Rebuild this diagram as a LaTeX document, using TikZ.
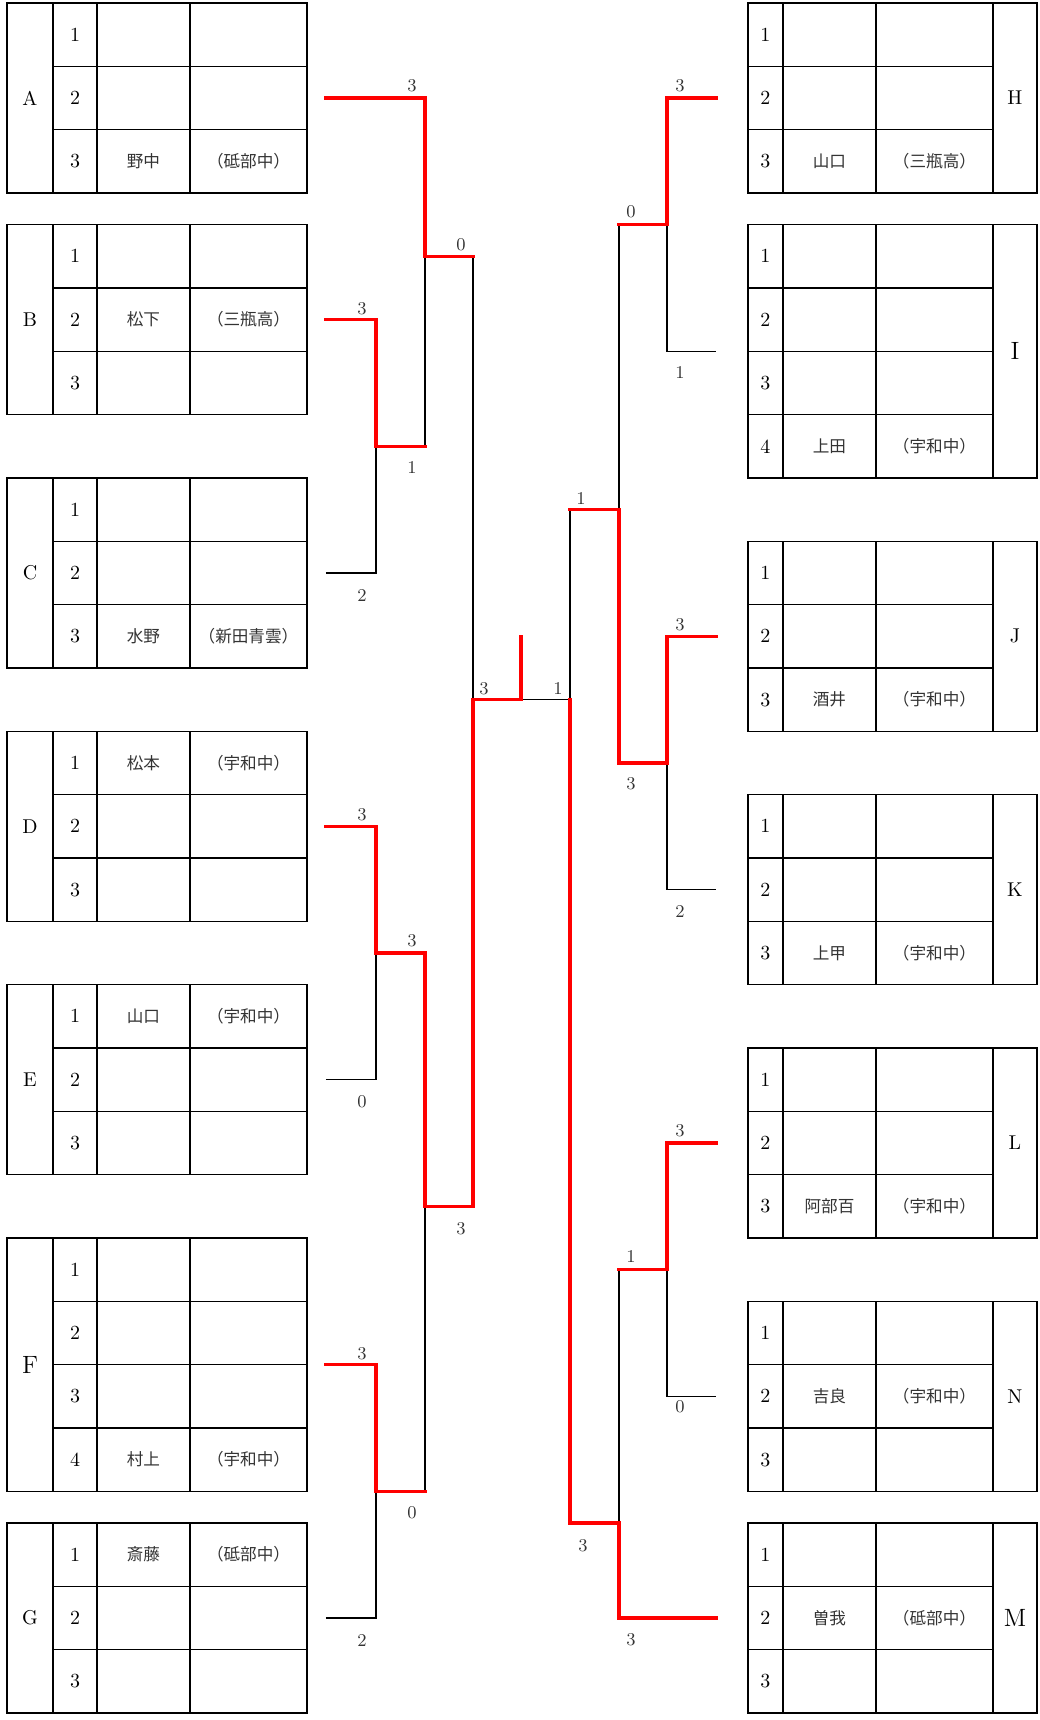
\documentclass[tikz,border=0pt]{standalone}
\usepackage{fontspec}
\newfontfamily\jpfont{Noto Sans CJK JP}
\usepackage{xcolor}
\definecolor{winred}{HTML}{FF0000}
\definecolor{scoregray}{HTML}{333333}

\begin{document}
\begin{tikzpicture}[x=0.5pt, y={(0,-31.6667pt)},
  tabline/.style={line width=0.8pt, line cap=rect},
  numcell/.style={font=\fontsize{10}{12}\selectfont, inner sep=0pt},
  jp/.style={font=\jpfont\fontsize{8.3}{10}\selectfont, text=black!80, inner sep=0pt},
  score/.style={font=\fontsize{9}{11}\selectfont, text=scoregray, inner sep=0pt},
  lose/.style={line width=0.8pt},
  win/.style={draw=winred, line width=1.7pt, line cap=rect}]
  \useasboundingbox (0,-0.0474) rectangle (1040,27.111);

  % left tables: tag/top row/rows/letter size/entry row/name/school
  \foreach \tag/\ty/\n/\fs/\er/\who/\club in {A/0/3/10/2.5/野中/{（砥部中）},
      B/3.5/3/10/5/松下/{（三瓶高）}, C/7.5/3/10/10/水野/{（新田青雲）},
      D/11.5/3/10/12/松本/{（宇和中）}, E/15.5/3/10/16/山口/{（宇和中）},
      F/19.5/4/12.5/23/村上/{（宇和中）}, G/24/3/10/24.5/斎藤/{（砥部中）}}{
    \draw[tabline] (7,\ty) rectangle (307,\ty+\n);
    \foreach \cx in {53,97,190}
      \draw[tabline] (\cx,\ty) -- (\cx,\ty+\n);
    \foreach \k in {1,...,\n}{
      \ifnum\k<\n \draw[tabline] (53,\ty+\k) -- (307,\ty+\k); \fi
      \node[numcell] (num\tag\k) at (75,\ty+\k-0.5) {\k};
    }
    \node[numcell, font=\fontsize{\fs}{\fs}\selectfont] (lbl\tag) at (30,\ty+\n/2) {\tag};
    \node[jp] (who\tag) at (143.5,\er) {\who};
    \node[jp] (club\tag) at (248.5,\er) {\club};
  }

  % right tables
  \foreach \tag/\ty/\n/\fs/\er/\who/\club in {H/0/3/10/2.5/山口/{（三瓶高）},
      I/3.5/4/12.5/7/上田/{（宇和中）}, J/8.5/3/10/11/酒井/{（宇和中）},
      K/12.5/3/10/15/上甲/{（宇和中）}, L/16.5/3/10/19/阿部百/{（宇和中）},
      N/20.5/3/10/22/吉良/{（宇和中）}, M/24/3/12.5/25.5/曽我/{（砥部中）}}{
    \draw[tabline] (748,\ty) rectangle (1037,\ty+\n);
    \foreach \cx in {783,876,993}
      \draw[tabline] (\cx,\ty) -- (\cx,\ty+\n);
    \foreach \k in {1,...,\n}{
      \ifnum\k<\n \draw[tabline] (748,\ty+\k) -- (993,\ty+\k); \fi
      \node[numcell] (num\tag\k) at (765.5,\ty+\k-0.5) {\k};
    }
    \node[numcell, font=\fontsize{\fs}{\fs}\selectfont] (lbl\tag) at (1015,\ty+\n/2) {\tag};
    \node[jp] (who\tag) at (829.5,\er) {\who};
    \node[jp] (club\tag) at (934.5,\er) {\club};
  }

  % line ends and joins
  \coordinate (pA) at (326,1.5);
  \coordinate (pB) at (326,5);
  \coordinate (pC) at (326,9);
  \coordinate (pD) at (326,13);
  \coordinate (pE) at (326,17);
  \coordinate (pF) at (326,21.5);
  \coordinate (pG) at (326,25.5);
  \coordinate (pH) at (716,1.5);
  \coordinate (pI) at (716,5.5);
  \coordinate (pJ) at (716,10);
  \coordinate (pK) at (716,14);
  \coordinate (pL) at (716,18);
  \coordinate (pN) at (716,22);
  \coordinate (pM) at (716,25.5);
  \coordinate (oBC) at (376,7);
  \coordinate (oDE) at (376,15);
  \coordinate (oFG) at (376,23.5);
  \coordinate (oHI) at (667,3.5);
  \coordinate (oJK) at (667,12);
  \coordinate (oLN) at (667,20);
  \coordinate (oABC) at (425,4);
  \coordinate (oDEFG) at (425,19);
  \coordinate (oHIJK) at (619,8);
  \coordinate (oLNM) at (619,24);
  \coordinate (oL) at (473,11);
  \coordinate (oR) at (570,11);
  \coordinate (ctr) at (521,11);
  \coordinate (flag) at (521,10);

  % lost
  \draw[lose] (pC) -| (oBC);
  \draw[lose] (pE) -| (oDE);
  \draw[lose] (pG) -| (oFG);
  \draw[lose] (pI) -| (oHI);
  \draw[lose] (pK) -| (oJK);
  \draw[lose] (pN) -| (oLN);
  \draw[lose] (oBC -| oABC) -- (oABC);
  \draw[lose] (oABC -| oL) -- (oL);
  \draw[lose] (oFG -| oDEFG) -- (oDEFG);
  \draw[lose] (oHI -| oHIJK) -- (oHIJK);
  \draw[lose] (oLN -| oLNM) -- (oLNM);
  \draw[lose] (oHIJK -| oR) -- (oR) -- (ctr);

  % won
  \draw[win] (pA) -| (oABC) -- (oABC -| oL);
  \draw[win] (pB) -| (oBC) -- (oBC -| oABC);
  \draw[win] (pD) -| (oDE) -| (oDEFG) -| (oL) -- (ctr) -- (flag);
  \draw[win] (pF) -| (oFG) -- (oFG -| oDEFG);
  \draw[win] (pH) -| (oHI) -- (oHI -| oHIJK);
  \draw[win] (pJ) -| (oJK) -| (oHIJK) -- (oHIJK -| oR);
  \draw[win] (pL) -| (oLN) -- (oLN -| oLNM);
  \draw[win] (pM) -| (oLNM) -| (oR);

  % scores
  \node[score] (sA) at (412,1.31) {3};
  \node[score] (sB) at (362,4.82) {3};
  \node[score] (sC) at (362,9.36) {2};
  \node[score] (sBC) at (412,7.34) {1};
  \node[score] (sABC) at (461,3.81) {0};
  \node[score] (sD) at (362,12.82) {3};
  \node[score] (sE) at (362,17.35) {0};
  \node[score] (sDE) at (412,14.81) {3};
  \node[score] (sF) at (362,21.32) {3};
  \node[score] (sG) at (362,25.86) {2};
  \node[score] (sFG) at (412,23.83) {0};
  \node[score] (sDEFG) at (461,19.36) {3};
  \node[score] (sLft) at (484,10.82) {3};
  \node[score] (sRgt) at (558,10.82) {1};
  \node[score] (sH) at (680,1.31) {3};
  \node[score] (sI) at (680,5.84) {1};
  \node[score] (sHI) at (631,3.30) {0};
  \node[score] (sJ) at (680,9.81) {3};
  \node[score] (sK) at (680,14.35) {2};
  \node[score] (sJK) at (631,12.33) {3};
  \node[score] (sHIJK) at (581,7.82) {1};
  \node[score] (sL) at (680,17.80) {3};
  \node[score] (sN) at (680,22.17) {0};
  \node[score] (sLN) at (631,19.80) {1};
  \node[score] (sM) at (631,25.85) {3};
  \node[score] (sLNM) at (583,24.36) {3};
\end{tikzpicture}
\end{document}
